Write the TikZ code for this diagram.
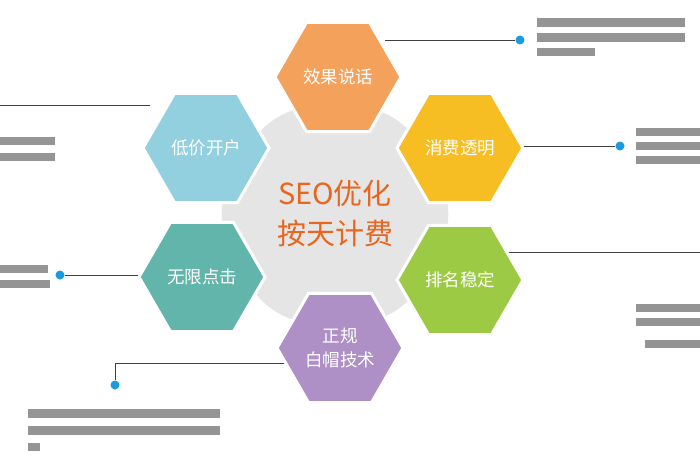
\documentclass[tikz,border=0pt]{standalone}
\usepackage{fontspec}
\setmainfont{Noto Sans CJK SC}
\usetikzlibrary{shapes.geometric}
\definecolor{cOr}{HTML}{F4A15C}
\definecolor{cYe}{HTML}{F6BE22}
\definecolor{cGr}{HTML}{9DCA45}
\definecolor{cPu}{HTML}{AE8FC6}
\definecolor{cTe}{HTML}{62B5AA}
\definecolor{cBl}{HTML}{92D0DF}
\definecolor{cDot}{HTML}{1A9BE0}
\definecolor{cTxt}{HTML}{E8661E}
\tikzset{
 hexa/.style={regular polygon,regular polygon sides=6,minimum size=126pt,draw=white,line width=3pt,text=white,font=\fontsize{17.5}{24}\selectfont,align=center,inner sep=0pt},
 lnk/.style={draw=black!75,line width=0.8pt},
 dotn/.style={circle,fill=cDot,minimum size=9pt,inner sep=0pt},
 bar/.style={fill=black!42}
}
\begin{document}
\begin{tikzpicture}[x=1pt,y=-1pt]
\useasboundingbox[fill=white] (0,0) rectangle (700,470);
% central blob
\node[regular polygon,regular polygon sides=6,minimum size=250pt,fill=black!10,rounded corners=40pt,inner sep=0pt] (c) at (335,215) {};
\node[text=cTxt,font=\fontsize{29}{40}\selectfont,align=center] (ct) at (335,214) {SEO优化\\按天计费};
% lines
\coordinate (l1a) at (385,40); \node[dotn] (d1) at (520,40) {};
\draw[lnk] (l1a) -- (d1);
\coordinate (l2a) at (510,146); \node[dotn] (d2) at (620,146) {};
\draw[lnk] (l2a) -- (d2);
\coordinate (l3a) at (500,252); \coordinate (l3b) at (700,252);
\draw[lnk] (l3a) -- (l3b);
\coordinate (l4a) at (300,363); \coordinate (l4b) at (115,363); \node[dotn] (d4) at (115,385) {};
\draw[lnk] (l4a) -- (l4b) -- (d4);
\coordinate (l5a) at (150,275); \node[dotn] (d5) at (60,275) {};
\draw[lnk] (l5a) -- (d5);
\coordinate (l6a) at (150,105); \coordinate (l6b) at (0,105);
\draw[lnk] (l6a) -- (l6b);
% hexagons
\node[hexa,fill=cOr] (h1) at (338,77) {效果说话};
\node[hexa,fill=cYe] (h2) at (460,148) {消费透明};
\node[hexa,fill=cGr] (h3) at (460,280) {排名稳定};
\node[hexa,fill=cPu] (h4) at (340,348) {正规\\白帽技术};
\node[hexa,fill=cTe] (h5) at (202,277) {无限点击};
\node[hexa,fill=cBl] (h6) at (206,148) {低价开户};
% grey illegible text blocks
\fill[bar] (537,18) rectangle (685,27); \fill[bar] (537,33) rectangle (685,42); \fill[bar] (537,48) rectangle (595,56);
\fill[bar] (636,128) rectangle (700,136); \fill[bar] (636,142) rectangle (700,150); \fill[bar] (636,156) rectangle (700,164);
\fill[bar] (636,304) rectangle (700,312); \fill[bar] (636,318) rectangle (700,326); \fill[bar] (645,340) rectangle (700,348);
\fill[bar] (28,409) rectangle (220,418); \fill[bar] (28,426) rectangle (220,435); \fill[bar] (28,443) rectangle (40,451);
\fill[bar] (0,265) rectangle (48,273); \fill[bar] (0,280) rectangle (50,288);
\fill[bar] (0,137) rectangle (55,145); \fill[bar] (0,153) rectangle (55,161);
\end{tikzpicture}
\end{document}
